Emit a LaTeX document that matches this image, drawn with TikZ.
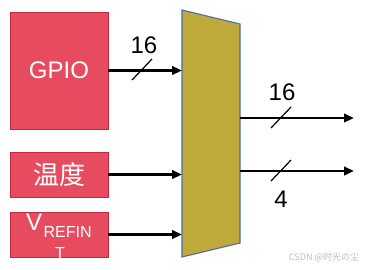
\documentclass[tikz,border=0pt]{standalone}
\usepackage{fontspec}
\setmainfont{Liberation Sans}
\newfontfamily\cjk{Noto Sans CJK SC}
\usetikzlibrary{arrows.meta,positioning,calc}
\definecolor{muxRed}{HTML}{E64B5F}
\definecolor{muxRedD}{HTML}{C42A3E}
\definecolor{muxOlive}{HTML}{BFA93A}
\definecolor{muxBlue}{HTML}{4A6DB0}
\definecolor{muxGrey}{HTML}{BDBDBD}
\tikzset{
  >={Triangle[length=10pt,width=8.5pt]},
  src/.style={draw=muxRedD, fill=muxRed, line width=0.8pt, text=white,
              minimum width=98pt, inner sep=0pt, align=center},
  mux/.style={draw=muxBlue, fill=muxOlive, line width=1.1pt},
  bus/.style={->, line width=2.6pt},
  tick/.style={line width=1.2pt},
  num/.style={font=\fontsize{24}{26}\selectfont, inner sep=0pt},
  wlbl/.style={text=white, inner sep=0pt},
}
\newcommand{\busslash}[1]{\draw[tick] ($(#1)+(-10,10)$) -- ($(#1)+(10,-11)$);}

\begin{document}
\begin{tikzpicture}[x=1pt,y=-1pt]
  \useasboundingbox (0,0) rectangle (366,269);
  % sources
  \node[src,minimum height=117pt,font=\fontsize{24}{26}\selectfont] (gpio) at (59,70.5){GPIO};
  \node[src,minimum height=45pt,font=\cjk\fontsize{26}{28}\selectfont] (temp) at (59,174.5){温度};
  \node[src,minimum height=45pt] (vref) at (59,234.5){};
  \node[wlbl,anchor=base west,font=\fontsize{24}{24}\selectfont] (vrefV) at (26,230){V};
  \node[wlbl,anchor=base west,font=\fontsize{16}{16}\selectfont] (vrefS) at ($(vrefV.base east)+(1,7)$){REFIN};
  \node[wlbl,anchor=base west,font=\fontsize{16}{16}\selectfont] (vrefT) at (55,258){T};
  % multiplexer
  \draw[mux] (182,10) coordinate (mx-tl) -- (240,24) coordinate (mx-tr)
    -- (240,243) coordinate (mx-br) -- (182,257) coordinate (mx-bl) -- cycle;
  \foreach \n in {gpio,temp,vref}{\draw[bus] (\n.east) -- (\n.east -| mx-tl);}
  \coordinate (o1) at (354,118);
  \coordinate (o2) at (354,171);
  \draw[bus] (o1 -| mx-tr) -- (o1);
  \draw[bus] (o2 -| mx-tr) -- (o2);
  % bus widths
  \coordinate (t1) at (142,70);
  \coordinate (t2) at (281,118);
  \coordinate (t3) at (281,171);
  \busslash{t1}
  \busslash{t2}
  \busslash{t3}
  \node[num] (w1) at (144,45){16};
  \node[num] (w2) at (282,92){16};
  \node[num] (w3) at (281,199){4};
  \node[text=muxGrey,inner sep=0pt,font=\cjk\fontsize{9}{10}\selectfont] (mark) at (324,257){CSDN @时光の尘};
\end{tikzpicture}
\end{document}
